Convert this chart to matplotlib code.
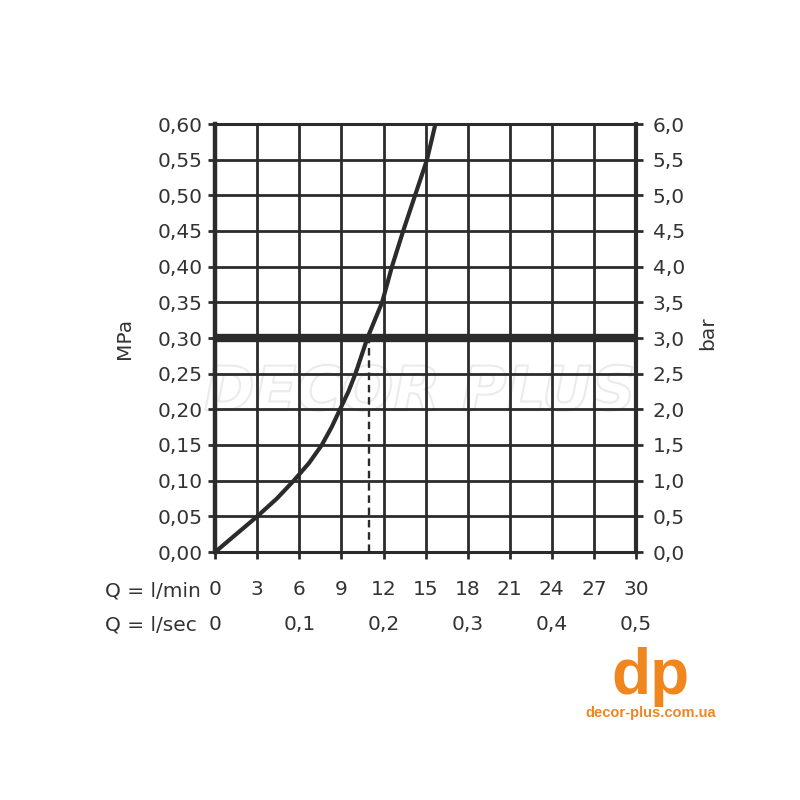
import matplotlib
matplotlib.use("Agg")
import matplotlib.pyplot as plt
from matplotlib import patheffects as pe
from matplotlib.transforms import blended_transform_factory

# flow curve (l/min vs MPa)
flow_lmin = [0, 1.5, 3.0, 4.4, 5.6, 6.7, 7.6, 8.3, 8.9, 9.5, 10.0,
             10.85, 11.9, 12.6, 13.4, 14.25, 15.1, 15.7]
pressure_mpa = [0, 0.025, 0.05, 0.075, 0.10, 0.125, 0.15, 0.175, 0.20, 0.225, 0.25,
                0.30, 0.35, 0.40, 0.45, 0.50, 0.55, 0.60]

# working point
work_pressure = 0.30
work_flow = 10.95

lmin_ticks = [0, 3, 6, 9, 12, 15, 18, 21, 24, 27, 30]
lmin_labels = ["0", "3", "6", "9", "12", "15", "18", "21", "24", "27", "30"]
lsec_pos = [0, 6, 12, 18, 24, 30]
lsec_labels = ["0", "0,1", "0,2", "0,3", "0,4", "0,5"]
mpa_ticks = [0, 0.05, 0.10, 0.15, 0.20, 0.25, 0.30, 0.35, 0.40, 0.45, 0.50, 0.55, 0.60]
mpa_labels = ["0,00", "0,05", "0,10", "0,15", "0,20", "0,25", "0,30",
              "0,35", "0,40", "0,45", "0,50", "0,55", "0,60"]
bar_ticks = [0, 0.5, 1.0, 1.5, 2.0, 2.5, 3.0, 3.5, 4.0, 4.5, 5.0, 5.5, 6.0]
bar_labels = ["0,0", "0,5", "1,0", "1,5", "2,0", "2,5", "3,0",
              "3,5", "4,0", "4,5", "5,0", "5,5", "6,0"]

plt.rcParams["font.family"] = ["DejaVu Sans"]
ink = "#2b2b2b"
txt = "#333333"
orange = "#f0861e"
fs = 14.5

fig = plt.figure(figsize=(8, 8), dpi=100)
ax = fig.add_axes([0.269, 0.31, 0.526, 0.535])

ax.set_xlim(0, 30)
ax.set_ylim(0, 0.6)
ax.set_xticks(lmin_ticks)
ax.set_xticklabels(lmin_labels)
ax.set_yticks(mpa_ticks)
ax.set_yticklabels(mpa_labels)
ax.grid(True, color=ink, lw=2.0)

for side in ax.spines:
    ax.spines[side].set_linewidth(2.2)
    ax.spines[side].set_color(ink)
ax.spines["left"].set_linewidth(3.2)
ax.spines["right"].set_linewidth(3.0)

ax.tick_params(axis="y", direction="out", length=5, width=2, pad=4,
               labelsize=fs, color=ink, labelcolor=txt)
ax.tick_params(axis="x", direction="out", length=5, width=2, pad=15,
               labelsize=fs, color=ink, labelcolor=txt)

# faint watermark
ax.text(14.6, 0.222, "DECOR PLUS", fontsize=44, fontweight="bold",
        fontstyle="italic", ha="center", va="center", color="none",
        zorder=0.3,
        path_effects=[pe.Stroke(linewidth=1.5, foreground="#ebebeb")])

# curve, working pressure line, dashed drop line
ax.plot(flow_lmin, pressure_mpa, color=ink, lw=3, zorder=4,
        solid_capstyle="butt", solid_joinstyle="round")
ax.axhline(work_pressure, color=ink, lw=6, zorder=3)
ax.plot([work_flow, work_flow], [0, work_pressure], color=ink, lw=1.7,
        ls=(0, (3.2, 2.0)), zorder=3)

# right axis in bar
ax2 = ax.twinx()
ax2.set_ylim(0, 6)
ax2.set_yticks(bar_ticks)
ax2.set_yticklabels(bar_labels)
ax2.tick_params(axis="y", direction="out", length=5, width=2, pad=7,
                labelsize=fs, color=ink, labelcolor=txt)
for side in ax2.spines:
    ax2.spines[side].set_visible(False)

# axis titles
fig.text(125 / 800, 1 - 338 / 800, "MPa", rotation=90, ha="center",
         va="center", fontsize=fs, color=txt)
fig.text(708 / 800, 1 - 333 / 800, "bar", rotation=90, ha="center",
         va="center", fontsize=fs, color=txt)

fig.text(105 / 800, 1 - 591 / 800, "Q = l/min", ha="left", va="center",
         fontsize=fs, color=txt)
fig.text(105 / 800, 1 - 625 / 800, "Q = l/sec", ha="left", va="center",
         fontsize=fs, color=txt)

# second row of x labels (l/sec)
trans = blended_transform_factory(ax.transData, fig.transFigure)
for pos, lab in zip(lsec_pos, lsec_labels):
    ax.text(pos, 1 - 625 / 800, lab, transform=trans, ha="center",
            va="center", fontsize=fs, color=txt, clip_on=False)

# logo
fig.text(650 / 800, 1 - 694 / 800, "dp", ha="center", va="baseline",
         fontsize=46, fontweight="bold", color=orange,
         family="Liberation Sans")
fig.text(651 / 800, 1 - 713 / 800, "decor-plus.com.ua", ha="center",
         va="center", fontsize=10.5, fontweight="bold", color=orange,
         family="Liberation Sans")

fig.savefig("out.png", dpi=100)
